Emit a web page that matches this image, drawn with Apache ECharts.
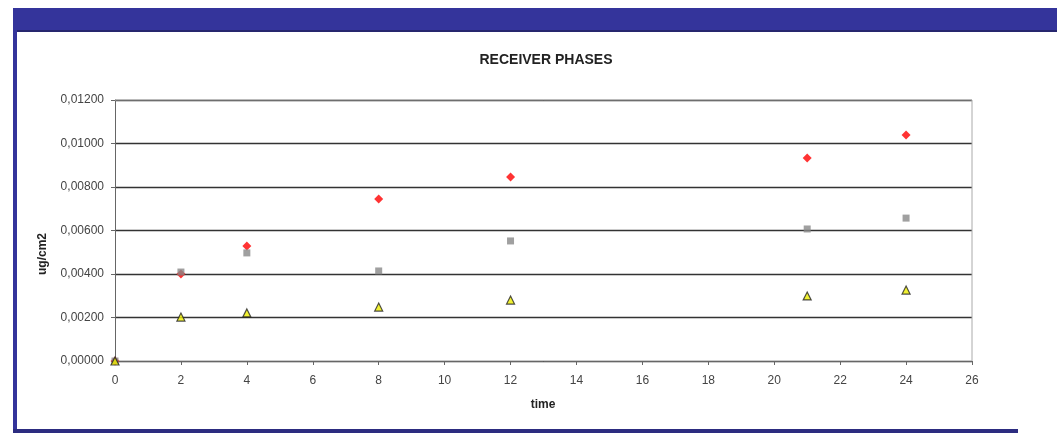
<!DOCTYPE html>
<html>
<head>
<meta charset="utf-8">
<script src="https://cdn.jsdelivr.net/npm/echarts@6/dist/echarts.min.js"></script>
<style>
html,body{margin:0;padding:0;background:#fff;}
#c{width:1057px;height:433px;}
</style>
</head>
<body>
<div id="c"></div>
<script>
const times = [0, 2, 4, 8, 12, 21, 24];
const redSeries = [0, 0.0040, 0.00529, 0.00745, 0.00846, 0.00933, 0.01039];
const graySeries = [0, 0.00409, 0.00497, 0.00414, 0.00552, 0.00607, 0.00657];
const yellowSeries = [0, 0.00202, 0.00221, 0.00248, 0.0028, 0.00299, 0.00326];
const titleText = 'RECEIVER PHASES';
const yName = 'ug/cm2';
const xName = 'time';

const pts = arr => times.map((t, i) => [t, arr[i]]);
const chart = echarts.init(document.getElementById('c'));
chart.setOption({
  animation: false,
  backgroundColor: '#fff',
  title: {
    text: titleText, left: 541, top: 48, textAlign: 'center',
    textStyle: {fontFamily: 'Liberation Sans Narrow, Liberation Sans, Arial', fontSize: 14, fontWeight: 'bold', color: '#222'}
  },
  graphic: [
    {type: 'rect', shape: {x: 13, y: 8, width: 1044, height: 24}, style: {fill: '#34349b'}, z: 10},
    {type: 'rect', shape: {x: 13, y: 30, width: 1044, height: 2}, style: {fill: '#26266e'}, z: 10},
    {type: 'rect', shape: {x: 13, y: 8, width: 4, height: 425}, style: {fill: '#34349b'}, z: 10},
    {type: 'rect', shape: {x: 13, y: 429, width: 1005, height: 4}, style: {fill: '#2c2c80'}, z: 10},
    {type: 'text', left: 37, top: 233, rotation: Math.PI / 2,
      style: {text: yName, font: 'bold 12px Liberation Sans, Arial', fill: '#222', textAlign: 'center', textVerticalAlign: 'middle'}, z: 10},
    {type: 'text', x: 543, y: 405,
      style: {text: xName, font: 'bold 12px Liberation Sans, Arial', fill: '#222', textAlign: 'center', textVerticalAlign: 'middle'}, z: 10},
    {type: 'line', shape: {x1: 115, y1: 100, x2: 972, y2: 100}, style: {stroke: '#aaa', lineWidth: 1}, z: 1},
    {type: 'line', shape: {x1: 972, y1: 100, x2: 972, y2: 361}, style: {stroke: '#aaa', lineWidth: 1}, z: 1}
  ],
  grid: {left: 115, right: 85, top: 100, bottom: 72},
  xAxis: {
    type: 'value', min: 0, max: 26, interval: 2,
    axisLine: {lineStyle: {color: '#666', width: 1}},
    axisTick: {show: true, length: 4, lineStyle: {color: '#666'}},
    axisLabel: {color: '#444', fontSize: 12, fontFamily: 'Liberation Sans, Arial', margin: 14},
    splitLine: {show: false}
  },
  yAxis: {
    type: 'value', min: 0, max: 0.012, interval: 0.002,
    axisLine: {show: true, lineStyle: {color: '#666', width: 1}},
    axisTick: {show: true, length: 4, lineStyle: {color: '#666'}},
    axisLabel: {color: '#444', fontSize: 12, fontFamily: 'Liberation Sans, Arial', margin: 11,
      formatter: v => v.toFixed(5).replace('.', ',')},
    splitLine: {show: true, lineStyle: {color: '#333', width: 1.4}}
  },
  series: [
    {type: 'scatter', name: 'red', data: pts(redSeries), symbol: 'diamond', symbolSize: 9,
      itemStyle: {color: '#ff0000'}, z: 3},
    {type: 'scatter', name: 'gray', data: pts(graySeries), symbol: 'rect', symbolSize: 7,
      itemStyle: {color: '#888888'}, z: 4},
    {type: 'scatter', name: 'yellow', data: pts(yellowSeries), symbol: 'triangle', symbolSize: 8,
      itemStyle: {color: '#eeee00', borderColor: '#222', borderWidth: 1.2}, z: 5}
  ]
});
</script>
</body>
</html>
